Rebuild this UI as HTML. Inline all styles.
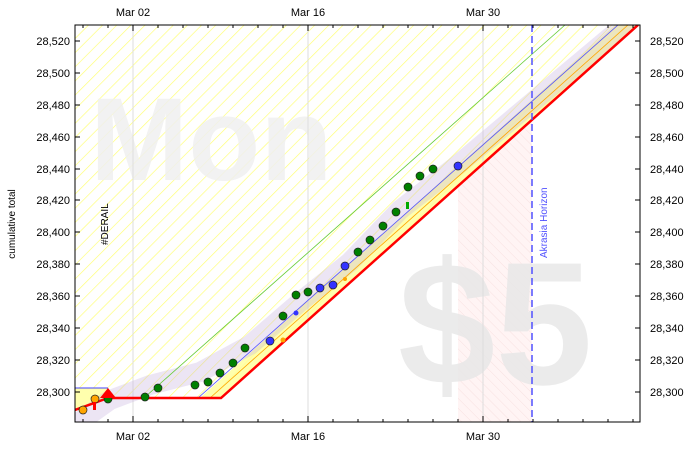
<!DOCTYPE html><html><head><style>body{margin:0;background:#fff}svg{display:block;font-family:"Liberation Sans",sans-serif}</style></head><body>
<svg width="696" height="453" xmlns="http://www.w3.org/2000/svg">
<defs>
<pattern id="hy" width="10" height="10" patternUnits="userSpaceOnUse" patternTransform="rotate(45)"><line x1="0" y1="0" x2="0" y2="10" stroke="#ffff70" stroke-width="1.3"/></pattern>
<pattern id="hp" width="7" height="7" patternUnits="userSpaceOnUse" patternTransform="rotate(-45)"><rect width="7" height="7" fill="#fff4f4"/><line x1="0" y1="0" x2="0" y2="7" stroke="#f8e0e0" stroke-width="1"/></pattern>
<clipPath id="c"><rect x="75" y="25" width="565" height="397"/></clipPath>
</defs>
<g clip-path="url(#c)">
<polygon points="75,25 640,25 640,25 638,25 221,398 108,398 108,388 75,388" fill="url(#hy)"/>
<polygon points="75,388 108,388 108,398 75,410" fill="#ffff99" opacity="0.8"/>
<polygon points="200,398 221,398 638,25 615,25" fill="#ffff99" opacity="0.8"/>
<polygon points="458,186 532,120 532,422 458,422" fill="url(#hp)"/>
<text x="90" y="180" font-size="118" font-weight="bold" fill="#f0f0f0" opacity="0.85">Mon</text>
<text x="398" y="384" font-size="175" font-weight="bold" fill="#e8e8e8" opacity="0.85">$5</text>
<g stroke="#ddd" stroke-width="1"><line x1="133" y1="25" x2="133" y2="422"/><line x1="308" y1="25" x2="308" y2="422"/><line x1="483" y1="25" x2="483" y2="422"/></g>
<polyline points="75,425 110,400 150,385 200,372 250,345 300,302 350,262 400,210 460,163 640,12" fill="none" stroke="#c8b4e0" stroke-width="20" opacity="0.35"/>
<line x1="75" y1="388" x2="108" y2="388" stroke="#4040ff" stroke-width="1"/>
<line x1="145" y1="397" x2="565" y2="25" stroke="#66cc33" stroke-width="0.8"/>
<line x1="198" y1="398" x2="618" y2="25" stroke="#5050ff" stroke-width="0.8"/>
<line x1="210" y1="398" x2="628" y2="25" stroke="#ffa500" stroke-width="0.8"/>
<polyline points="75,410 108,398 221,398 638,25" fill="none" stroke="#ff0000" stroke-width="2.5"/>
<line x1="532" y1="25" x2="532" y2="422" stroke="#5050ff" stroke-width="1.5" stroke-dasharray="7,4"/>
<g stroke="#222" stroke-width="0.7">
<circle cx="83" cy="410" r="4" fill="#ffa500"/><circle cx="95" cy="399" r="4" fill="#ffa500"/>
<circle cx="108" cy="399" r="4" fill="#008000"/><circle cx="145" cy="397" r="4" fill="#008000"/><circle cx="158" cy="388" r="4" fill="#008000"/>
<circle cx="195" cy="385" r="4" fill="#008000"/><circle cx="208" cy="382" r="4" fill="#008000"/><circle cx="220" cy="373" r="4" fill="#008000"/>
<circle cx="233" cy="363" r="4" fill="#008000"/><circle cx="245" cy="348" r="4" fill="#008000"/><circle cx="270" cy="341" r="4" fill="#3333ff"/>
<circle cx="283" cy="316" r="4" fill="#008000"/><circle cx="296" cy="295" r="4" fill="#008000"/><circle cx="308" cy="292" r="4" fill="#008000"/>
<circle cx="320" cy="288" r="4" fill="#3333ff"/><circle cx="333" cy="285" r="4" fill="#3333ff"/><circle cx="345" cy="266" r="4" fill="#3333ff"/>
<circle cx="358" cy="252" r="4" fill="#008000"/><circle cx="370" cy="240" r="4" fill="#008000"/><circle cx="383" cy="226" r="4" fill="#008000"/>
<circle cx="396" cy="212" r="4" fill="#008000"/><circle cx="408" cy="187" r="4" fill="#008000"/><circle cx="420" cy="176" r="4" fill="#008000"/>
<circle cx="433" cy="169" r="4" fill="#008000"/><circle cx="458" cy="166" r="4" fill="#3333ff"/>
</g>
<circle cx="296" cy="313" r="2.5" fill="#3333ff"/><circle cx="283" cy="340" r="2.5" fill="#ffa500"/><circle cx="345" cy="279" r="2" fill="#ffa500"/>
<rect x="406" y="202" width="3" height="7" fill="#00aa00"/><rect x="93" y="402" width="3" height="8" fill="#ff0000"/>
<polygon points="100,398 108,388 116,398" fill="#ff0000"/>
<text transform="translate(108,245) rotate(-90)" font-size="10" fill="#000">#DERAIL</text>
<text transform="translate(547,258) rotate(-90)" font-size="10" fill="#5050ff">Akrasia Horizon</text>
</g>
<rect x="75" y="25" width="565" height="397" fill="none" stroke="#000" stroke-width="1"/>
<g stroke="#000" stroke-width="1">
<path d="M133,422v-6M308,422v-6M483,422v-6M133,25v6M308,25v6M483,25v6"/>
<path d="M83,422v-3M108,422v-3M158,422v-3M183,422v-3M208,422v-3M233,422v-3M258,422v-3M283,422v-3M333,422v-3M358,422v-3M383,422v-3M408,422v-3M433,422v-3M458,422v-3M508,422v-3M533,422v-3M558,422v-3M583,422v-3M608,422v-3M633,422v-3"/>
<path d="M83,25v3M108,25v3M158,25v3M183,25v3M208,25v3M233,25v3M258,25v3M283,25v3M333,25v3M358,25v3M383,25v3M408,25v3M433,25v3M458,25v3M508,25v3M533,25v3M558,25v3M583,25v3M608,25v3M633,25v3"/>
<path d="M75,41h5M75,73h5M75,105h5M75,137h5M75,169h5M75,200h5M75,232h5M75,264h5M75,296h5M75,328h5M75,360h5M75,392h5M640,41h-5M640,73h-5M640,105h-5M640,137h-5M640,169h-5M640,200h-5M640,232h-5M640,264h-5M640,296h-5M640,328h-5M640,360h-5M640,392h-5"/>
</g>
<g font-size="11" fill="#000">
<text x="133" y="16" text-anchor="middle">Mar 02</text><text x="308" y="16" text-anchor="middle">Mar 16</text><text x="483" y="16" text-anchor="middle">Mar 30</text>
<text x="133" y="440" text-anchor="middle">Mar 02</text><text x="308" y="440" text-anchor="middle">Mar 16</text><text x="483" y="440" text-anchor="middle">Mar 30</text>
<g text-anchor="end"><text x="70" y="45">28,520</text><text x="70" y="77">28,500</text><text x="70" y="109">28,480</text><text x="70" y="141">28,460</text><text x="70" y="173">28,440</text><text x="70" y="204">28,420</text><text x="70" y="236">28,400</text><text x="70" y="268">28,380</text><text x="70" y="300">28,360</text><text x="70" y="332">28,340</text><text x="70" y="364">28,320</text><text x="70" y="396">28,300</text></g>
<g><text x="650" y="45">28,520</text><text x="650" y="77">28,500</text><text x="650" y="109">28,480</text><text x="650" y="141">28,460</text><text x="650" y="173">28,440</text><text x="650" y="204">28,420</text><text x="650" y="236">28,400</text><text x="650" y="268">28,380</text><text x="650" y="300">28,360</text><text x="650" y="332">28,340</text><text x="650" y="364">28,320</text><text x="650" y="396">28,300</text></g>
<text transform="translate(15,224) rotate(-90)" font-size="10" text-anchor="middle">cumulative total</text>
</g>
</svg></body></html>
